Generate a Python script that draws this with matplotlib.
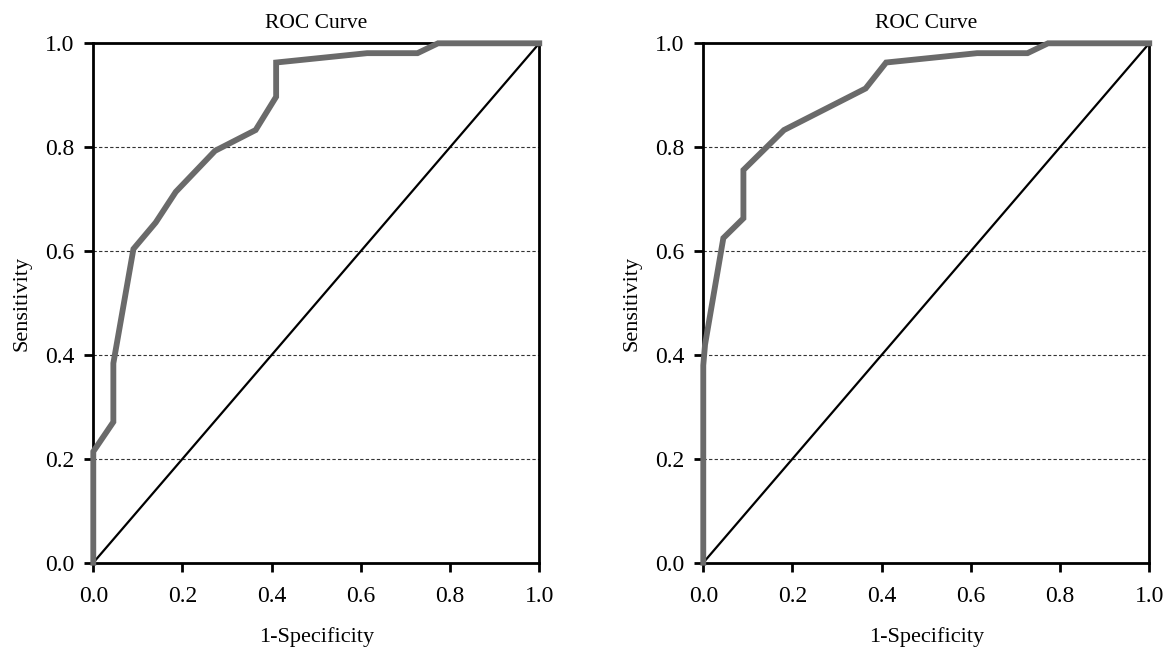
import matplotlib
matplotlib.use("Agg")
import matplotlib.pyplot as plt

plt.rcParams['font.family'] = ['Liberation Serif', 'DejaVu Serif']

# Left panel ROC
fpr_left = [0.0, 0.0, 0.045, 0.045, 0.09, 0.14, 0.185, 0.273, 0.364, 0.41, 0.41, 0.614, 0.727, 0.773, 1.0]
tpr_left = [0.0, 0.214, 0.271, 0.384, 0.604, 0.655, 0.714, 0.793, 0.833, 0.897, 0.963, 0.981, 0.981, 1.0, 1.0]

# Right panel ROC
fpr_right = [0.0, 0.0, 0.004, 0.045, 0.09, 0.09, 0.181, 0.364, 0.41, 0.614, 0.727, 0.773, 1.0]
tpr_right = [0.0, 0.38, 0.42, 0.625, 0.663, 0.756, 0.833, 0.913, 0.963, 0.981, 0.981, 1.0, 1.0]

ticks = [0.0, 0.2, 0.4, 0.6, 0.8, 1.0]
tick_labels = ["0.0", "0.2", "0.4", "0.6", "0.8", "1.0"]
title = "ROC Curve"
xlabel = "1-Specificity"
ylabel = "Sensitivity"

fig = plt.figure(figsize=(11.69, 6.56), dpi=100)
axes = [fig.add_axes([0.0798, 0.1422, 0.3815, 0.7918]),
        fig.add_axes([0.6016, 0.1422, 0.3815, 0.7918])]

for ax, fx, ty in zip(axes, [fpr_left, fpr_right], [tpr_left, tpr_right]):
    ax.set_xlim(0, 1)
    ax.set_ylim(0, 1)
    for y in [0.2, 0.4, 0.6, 0.8]:
        ax.axhline(y, color='#333333', linewidth=0.8, linestyle=(0, (3, 2)), zorder=1)
    ax.plot([0, 1], [0, 1], color='black', linewidth=1.6, zorder=2)
    ax.plot(fx, ty, color='#6a6a6a', linewidth=4.2, zorder=5, clip_on=False,
            solid_joinstyle='miter')
    for s in ax.spines.values():
        s.set_linewidth(2.0)
        s.set_color('black')
    ax.set_xticks(ticks)
    ax.set_xticklabels(tick_labels)
    ax.set_yticks(ticks)
    ax.set_yticklabels(tick_labels)
    ax.tick_params(axis='both', direction='out', length=6.5, width=2.0,
                   labelsize=17, colors='black')
    ax.tick_params(axis='x', pad=10)
    ax.tick_params(axis='y', pad=7)
    ax.set_title(title, fontsize=15.5, pad=11)
    ax.set_xlabel(xlabel, fontsize=16, labelpad=15)
    ax.set_ylabel(ylabel, fontsize=16, labelpad=10)

fig.savefig("out.png", dpi=100)
